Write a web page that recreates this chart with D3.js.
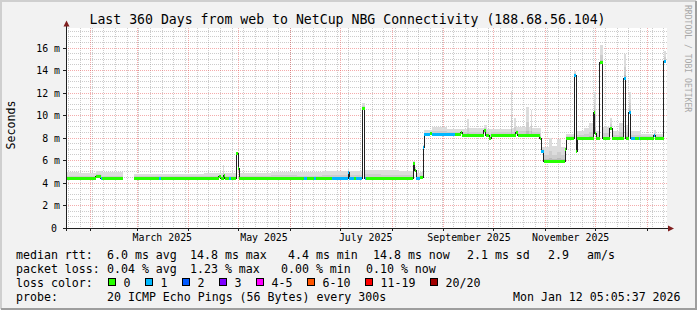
<!DOCTYPE html>
<html>
<head>
<meta charset="utf-8">
<script src="https://cdn.jsdelivr.net/npm/d3@7"></script>
<style>
  body { margin: 0; background: #f2f2f2; }
  svg { display: block; }
  text { font-family: "DejaVu Sans Mono", monospace; fill: #000; }
</style>
</head>
<body>
<div id="chart"></div>
<script>
// ---- data ----
var startDate = "2025-01-17T05:05", endDate = "2026-01-12T05:05";
var yMax = 17.78;

// median rtt (ms), each value holds until the next date; null = no data
var medDates = [
  "2025-01-17T05:05", "2025-01-18", "2025-02-04", "2025-02-07", "2025-02-08",
  "2025-02-20T12:00", "2025-02-27", "2025-03-14", "2025-03-15",
  "2025-04-19", "2025-04-20", "2025-04-22", "2025-04-22T12:00",
  "2025-04-25", "2025-04-26",
  "2025-04-29T12:00", "2025-04-30T12:00", "2025-05-01T06:00",
  "2025-06-09", "2025-06-11", "2025-06-15", "2025-06-16",
  "2025-06-26", "2025-07-05T12:00", "2025-07-06T06:00", "2025-07-09", "2025-07-10",
  "2025-07-14", "2025-07-15T12:00", "2025-07-16T06:00",
  "2025-08-13T12:00", "2025-08-14T12:00", "2025-08-15T12:00", "2025-08-17T12:00", "2025-08-19T12:00", "2025-08-20T06:00",
  "2025-08-23T12:00", "2025-08-25", "2025-09-07T12:00", "2025-09-11", "2025-09-12",
  "2025-09-25", "2025-09-26", "2025-09-28T06:00", "2025-09-29T06:00",
  "2025-10-14", "2025-10-15T06:00", "2025-10-28T12:00", "2025-10-29T12:00", "2025-10-31",
  "2025-11-12T18:00", "2025-11-13T12:00", "2025-11-18T06:00", "2025-11-19T06:00", "2025-11-20",
  "2025-11-29T18:00", "2025-11-30T12:00", "2025-12-01T06:00", "2025-12-03T12:00", "2025-12-05T06:00",
  "2025-12-09T12:00", "2025-12-11", "2025-12-18", "2025-12-19",
  "2025-12-21", "2025-12-22", "2025-12-24T12:00", "2025-12-27", "2025-12-27T18:00",
  "2026-01-05", "2026-01-05T18:00", "2026-01-11"
];
var medValues = [
  4.4, 4.4, 4.6, 4.4, 4.4,
  null, 4.4, 4.4, 4.4,
  4.55, 4.4, 4.7, 4.4,
  4.4, 4.4,
  6.6, 5.3, 4.4,
  4.4, 4.4, 4.4, 4.4,
  4.4, 4.9, 4.4, 4.4, 4.4,
  10.6, 4.4, 4.4,
  5.75, 5.15, 4.4, 4.5, 7.2, 8.3,
  8.4, 8.3, 8.35, 8.5, 8.25,
  8.7, 8.25, 8.0, 8.25,
  8.5, 8.25, 8.0, 6.8, 5.9,
  7.0, 7.95, 13.6, 6.8, 7.95,
  10.3, 8.4, 7.95, 14.7, 7.95,
  8.85, 7.95, 13.3, 7.95,
  10.3, 7.95, 7.95, 7.95, 7.95,
  8.25, 7.95, 14.8
];
// lost pings per sample (index into lossColors)
var medLoss = [
  1, 0, 0, 1, 0,
  0, 0, 1, 0,
  0, 0, 0, 0,
  1, 0,
  0, 0, 0,
  1, 0, 1, 0,
  1, 1, 1, 0, 1,
  0, 1, 0,
  0, 0, 1, 0, 1, 1,
  0, 1, 0, 0, 0,
  0, 0, 0, 0,
  0, 0, 0, 1, 0,
  0, 0, 1, 0, 0,
  0, 0, 0, 0, 0,
  0, 0, 1, 0,
  1, 1, 0, 1, 0,
  1, 0, 1
];

// upper edge of the smoke (ms)
var smokeDates = [
  "2025-01-17T05:05", "2025-01-25", "2025-02-04", "2025-02-08", "2025-02-20T12:00",
  "2025-02-27", "2025-03-20", "2025-04-10", "2025-04-21T12:00", "2025-04-22T06:00",
  "2025-04-29T12:00", "2025-04-30T12:00", "2025-05-01T06:00", "2025-05-20", "2025-06-05",
  "2025-06-20", "2025-07-05T12:00", "2025-07-06T06:00", "2025-07-14", "2025-07-15T12:00",
  "2025-07-25", "2025-08-05", "2025-08-13T12:00", "2025-08-14T12:00", "2025-08-15T12:00",
  "2025-08-17T12:00", "2025-08-19T12:00", "2025-08-20T06:00", "2025-08-25", "2025-09-03",
  "2025-09-15", "2025-09-16", "2025-09-25", "2025-09-27", "2025-10-11",
  "2025-10-12", "2025-10-13", "2025-10-14", "2025-10-20", "2025-10-22",
  "2025-10-23", "2025-10-24", "2025-10-29T12:00", "2025-11-03", "2025-11-05",
  "2025-11-08", "2025-11-10", "2025-11-13T12:00", "2025-11-18T06:00", "2025-11-19T06:00",
  "2025-11-24", "2025-11-27", "2025-11-29T18:00", "2025-12-01T06:00", "2025-12-03T12:00",
  "2025-12-05T06:00", "2025-12-09T12:00", "2025-12-11", "2025-12-15", "2025-12-18",
  "2025-12-19", "2025-12-21", "2025-12-22", "2025-12-28", "2026-01-05",
  "2026-01-06", "2026-01-11"
];
var smokeMax = [
  4.95, 4.9, 5.1, 4.95, null,
  4.8, 4.8, 4.9, 5.6, 4.85,
  6.8, 5.6, 4.85, 5.0, 4.95,
  5.1, 5.3, 5.05, 11.1, 5.2,
  5.15, 5.05, 6.0, 5.4, 4.9,
  5.0, 7.4, 8.7, 9.0, 8.8,
  9.7, 8.9, 9.2, 8.8, 12.2,
  8.9, 9.8, 9.0, 10.8, 9.0,
  10.5, 8.9, 7.2, 8.0, 7.3,
  7.9, 7.2, 8.4, 14.0, 8.6,
  8.9, 9.3, 12.1, 8.6, 16.3,
  9.0, 9.8, 8.6, 9.3, 15.5,
  9.2, 12.1, 8.6, 8.4, 8.7,
  8.4, 15.7
];

var yTicks = [0, 2, 4, 6, 8, 10, 12, 14, 16];
var yTickLabels = ["0", "2 m", "4 m", "6 m", "8 m", "10 m", "12 m", "14 m", "16 m"];
var xLabelDates = ["2025-03-16", "2025-05-16", "2025-07-16", "2025-09-16", "2025-11-16"];
var xLabels = ["March 2025", "May 2025", "July 2025", "September 2025", "November 2025"];

var lossNames = ["0", "1", "2", "3", "4-5", "6-10", "11-19", "20/20"];
var lossColors = ["#26ff00", "#00b8ff", "#0059ff", "#7e00ff", "#ff00ff", "#ff5500", "#ff0000", "#a10000"];

var rttStats = ["6.0 ms avg", "14.8 ms max", "4.4 ms min", "14.8 ms now", "2.1 ms sd", "2.9", "am/s"];
var lossStats = ["0.04 % avg", "1.23 % max", "0.00 % min", "0.10 % now"];
var probeText = "20 ICMP Echo Pings (56 Bytes) every 300s";
var stampText = "Mon Jan 12 05:05:37 2026";
var title = "Last 360 Days from web to NetCup NBG Connectivity (188.68.56.104)";

// ---- drawing ----
var W = 697, H = 310;
var parse = d3.utcParse("%Y-%m-%dT%H:%M");
function pd(s) { return parse(s.length == 10 ? s + "T00:00" : s); }

var x = d3.scaleUtc().domain([pd(startDate), pd(endDate)]).range([66, 666]);
var y = d3.scaleLinear().domain([0, yMax]).range([228, 28]);
var px = function(v) { return Math.floor(v) + 0.5; };

var svg = d3.select("#chart").append("svg")
  .attr("width", W).attr("height", H);

// frame
svg.append("rect").attr("width", W).attr("height", H).attr("fill", "#f2f2f2");
svg.append("path").attr("d", "M1,309 V1 H696").attr("fill", "none")
  .attr("stroke", "#cfcfcf").attr("stroke-width", 2);
svg.append("path").attr("d", "M1,309 H696 V1").attr("fill", "none")
  .attr("stroke", "#9e9e9e").attr("stroke-width", 2);

// canvas
svg.append("rect").attr("x", 66).attr("y", 28).attr("width", 601).attr("height", 200).attr("fill", "#fff");

var g = svg.append("g");

// minor grid
var minorY = d3.range(0.5, yMax, 0.5).filter(function(v) { return v % 2 != 0; });
g.selectAll(".hmin").data(minorY).enter().append("line")
  .attr("x1", 66).attr("x2", 667)
  .attr("y1", function(d) { return px(y(d)); }).attr("y2", function(d) { return px(y(d)); })
  .attr("stroke", "rgba(143,143,143,0.45)").attr("stroke-dasharray", "1,1");
var weeks = d3.utcSunday.range(x.domain()[0], x.domain()[1]);
g.selectAll(".vmin").data(weeks).enter().append("line")
  .attr("x1", function(d) { return px(x(d)); }).attr("x2", function(d) { return px(x(d)); })
  .attr("y1", 28).attr("y2", 228)
  .attr("stroke", "rgba(143,143,143,0.45)").attr("stroke-dasharray", "1,1");

// major grid
g.selectAll(".hmaj").data(yTicks.slice(1)).enter().append("line")
  .attr("x1", 66).attr("x2", 667)
  .attr("y1", function(d) { return px(y(d)); }).attr("y2", function(d) { return px(y(d)); })
  .attr("stroke", "rgba(230,70,70,0.45)").attr("stroke-dasharray", "1,1");
var months = d3.utcMonth.range(x.domain()[0], x.domain()[1]);
g.selectAll(".vmaj").data(months).enter().append("line")
  .attr("x1", function(d) { return px(x(d)); }).attr("x2", function(d) { return px(x(d)); })
  .attr("y1", 28).attr("y2", 228)
  .attr("stroke", "rgba(230,70,70,0.45)").attr("stroke-dasharray", "1,1");

// step lookup
function stepAt(dates, vals, t) {
  var v = null;
  for (var i = 0; i < dates.length; i++) {
    if (pd(dates[i]) <= t) v = vals[i]; else break;
  }
  return v;
}
// closes a run before a gap so the last step keeps its width
function withGaps(pts) {
  var out = [];
  pts.forEach(function(p, i) {
    if (p.v == null && i > 0 && pts[i - 1].v != null) out.push({t: p.t, v: pts[i - 1].v, lo: pts[i - 1].lo});
    out.push(p);
  });
  return out;
}

// smoke
var times = medDates.concat(smokeDates).map(pd)
  .sort(function(a, b) { return a - b; });
times = times.filter(function(t, i) { return i == 0 || +t != +times[i - 1]; });
var smoke = times.map(function(t) {
  var m = stepAt(medDates, medValues, t), s = stepAt(smokeDates, smokeMax, t);
  return {t: t, v: (m == null || s == null) ? null : s, lo: m};
});
smoke.push({t: pd(endDate), v: smoke[smoke.length - 1].v, lo: smoke[smoke.length - 1].lo});
smoke = withGaps(smoke);

var layers = [[1, "#dcdcdc"], [0.45, "#cdcdcd"], [0.15, "#bababa"]];
layers.forEach(function(l) {
  g.append("path").datum(smoke)
    .attr("fill", l[1]).attr("shape-rendering", "crispEdges")
    .attr("d", d3.area().curve(d3.curveStepAfter)
      .defined(function(d) { return d.v != null; })
      .x(function(d) { return x(d.t); })
      .y0(function(d) { return y(d.lo); })
      .y1(function(d) { return y(d.lo + (d.v - d.lo) * l[0]); }));
});

// median
var med = medDates.map(function(d, i) { return {t: pd(d), v: medValues[i], loss: medLoss[i]}; });
var medLine = withGaps(med.concat([{t: pd(endDate), v: medValues[medValues.length - 1]}]));
g.append("path").datum(medLine)
  .attr("fill", "none").attr("stroke", "#202020").attr("stroke-width", 1)
  .attr("shape-rendering", "crispEdges")
  .attr("d", d3.line().curve(d3.curveStepAfter)
    .defined(function(d) { return d.v != null; })
    .x(function(d) { return x(d.t); })
    .y(function(d) { return px(y(d.v)); }));

// loss coloured bands on the median
var segs = med.map(function(d, i) {
  return {t0: d.t, t1: i < med.length - 1 ? med[i + 1].t : pd(endDate), v: d.v, loss: d.loss};
}).filter(function(d) { return d.v != null; });
g.selectAll(".band").data(segs).enter().append("rect")
  .attr("x", function(d) { return Math.round(x(d.t0)); })
  .attr("width", function(d) { return Math.max(1, Math.round(x(d.t1)) - Math.round(x(d.t0))); })
  .attr("y", function(d) { return Math.floor(y(d.v)) - 1; })
  .attr("height", 3)
  .attr("fill", function(d) { return lossColors[d.loss]; })
  .attr("shape-rendering", "crispEdges");

// axes
var axisCol = "#1f1f1f", arrowCol = "#801f1f";
svg.append("line").attr("x1", 66.5).attr("x2", 66.5).attr("y1", 231).attr("y2", 24).attr("stroke", axisCol);
svg.append("line").attr("x1", 63).attr("x2", 669).attr("y1", 228.5).attr("y2", 228.5).attr("stroke", axisCol);
svg.append("path").attr("d", "M63.5,26.5 L69.5,26.5 L66.5,20.5 Z").attr("fill", arrowCol);
svg.append("path").attr("d", "M668,225.5 L668,231.5 L674,228.5 Z").attr("fill", arrowCol);

svg.selectAll(".ytk").data(yTicks.slice(1)).enter().append("line")
  .attr("x1", 63).attr("x2", 66)
  .attr("y1", function(d) { return px(y(d)); }).attr("y2", function(d) { return px(y(d)); })
  .attr("stroke", axisCol);
svg.selectAll(".xtk").data(months).enter().append("line")
  .attr("x1", function(d) { return px(x(d)); }).attr("x2", function(d) { return px(x(d)); })
  .attr("y1", 229).attr("y2", 231)
  .attr("stroke", axisCol);

svg.selectAll(".ylab").data(yTicks).enter().append("text")
  .attr("x", function(d) { return d == 0 ? 57 : 60; })
  .attr("y", function(d) { return y(d) + 3.5; })
  .attr("text-anchor", "end").style("font-size", "9.9px")
  .text(function(d, i) { return yTickLabels[i]; });

svg.selectAll(".xlab").data(xLabelDates).enter().append("text")
  .attr("x", function(d) { return x(pd(d)); })
  .attr("y", 240.5)
  .attr("text-anchor", "middle").style("font-size", "9.9px")
  .text(function(d, i) { return xLabels[i]; });

// title & side texts
svg.append("text").attr("x", 347.5).attr("y", 24).attr("text-anchor", "middle")
  .style("font-size", "13.2px").text(title);
svg.append("text").attr("transform", "translate(15,125) rotate(-90)")
  .attr("text-anchor", "middle").style("font-size", "11.6px").text("Seconds");
svg.append("text").attr("transform", "translate(685,5) rotate(90)")
  .style("font-size", "8.1px").style("fill", "#a8a8a8").text("RRDTOOL / TOBI OETIKER");

// legend
var lg = svg.append("g").style("font-size", "11.6px").attr("xml:space", "preserve");
var rows = [258.5, 272.5, 286.5, 300.5];
lg.append("text").attr("x", 16).attr("y", rows[0]).text("median rtt:");
lg.append("text").attr("x", 16).attr("y", rows[1]).text("packet loss:");
lg.append("text").attr("x", 16).attr("y", rows[2]).text("loss color:");
lg.append("text").attr("x", 16).attr("y", rows[3]).text("probe:");

var rttX = [107, 190, 288, 373, 467, 548, 587];
lg.selectAll(".rtt").data(rttStats).enter().append("text")
  .attr("x", function(d, i) { return rttX[i]; }).attr("y", rows[0]).text(function(d) { return d; });
var lossX = [107, 190, 281, 366];
lg.selectAll(".pl").data(lossStats).enter().append("text")
  .attr("x", function(d, i) { return lossX[i]; }).attr("y", rows[1]).text(function(d) { return d; });

var boxX = [108.5, 145.5, 182.5, 219.5, 256.5, 307.5, 365.5, 430.5];
lg.selectAll(".lbox").data(lossColors).enter().append("rect")
  .attr("x", function(d, i) { return boxX[i]; }).attr("y", 278.5)
  .attr("width", 7).attr("height", 7)
  .attr("fill", function(d) { return d; }).attr("stroke", "#000");
lg.selectAll(".lname").data(lossNames).enter().append("text")
  .attr("x", function(d, i) { return boxX[i] + 15; }).attr("y", rows[2])
  .text(function(d) { return d; });

lg.append("text").attr("x", 107).attr("y", rows[3]).text(probeText);
lg.append("text").attr("x", 513).attr("y", rows[3]).text(stampText);
</script>
</body>
</html>
